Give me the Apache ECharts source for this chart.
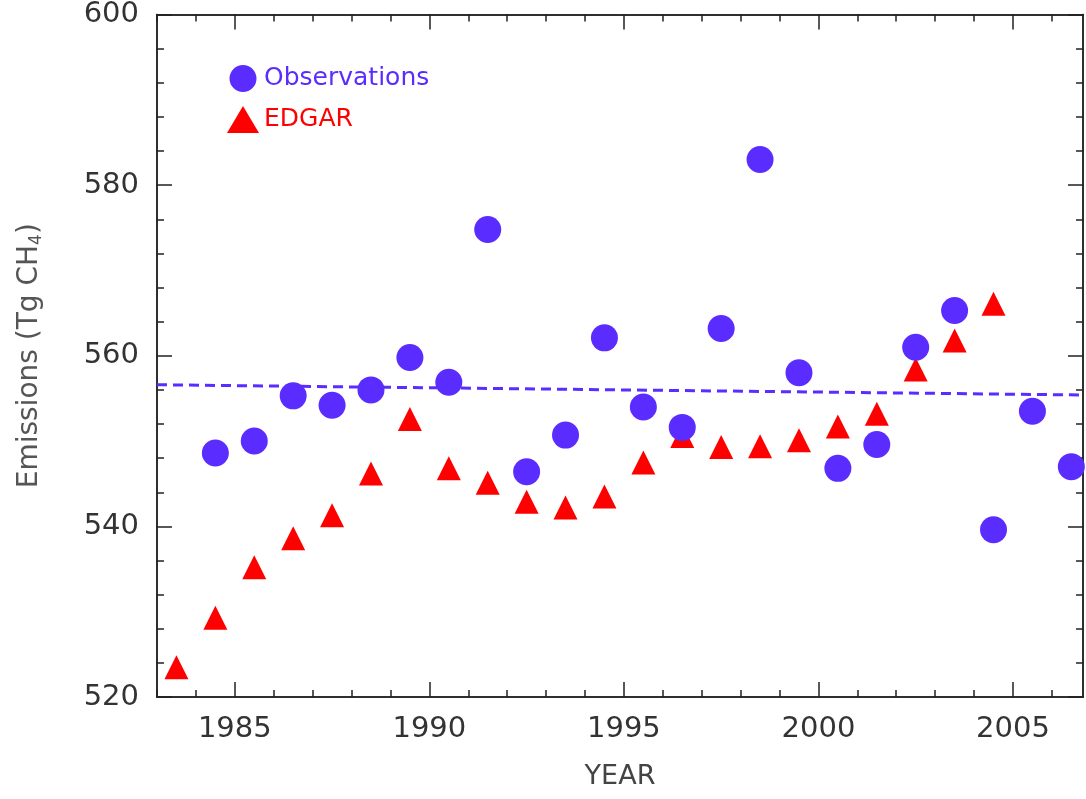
<!DOCTYPE html><html><head><meta charset="utf-8"><script src="https://cdn.jsdelivr.net/npm/echarts@6/dist/echarts.min.js"></script></head><body style="margin:0"><div id="c" style="width:1086px;height:799px"></div><script>
const obsYears=[1984.5,1985.5,1986.5,1987.5,1988.5,1989.5,1990.5,1991.5,1992.5,1993.5,1994.5,1995.5,1996.5,1997.5,1998.5,1999.5,2000.5,2001.5,2002.5,2003.5,2004.5,2005.5,2006.5];
const obsVals=[548.6,550.0,555.3,554.2,556.0,559.8,556.9,574.8,546.4,550.7,562.1,554.0,551.6,563.2,583.0,558.0,546.8,549.6,561.0,565.3,539.6,553.5,547.0];
const edgarYears=[1983.5,1984.5,1985.5,1986.5,1987.5,1988.5,1989.5,1990.5,1991.5,1992.5,1993.5,1994.5,1995.5,1996.5,1997.5,1998.5,1999.5,2000.5,2001.5,2002.5,2003.5,2004.5];
const edgarVals=[523.5,529.3,535.2,538.6,541.3,546.2,552.6,546.8,545.1,542.9,542.2,543.5,547.5,550.6,549.3,549.4,550.1,551.7,553.2,558.4,561.8,566.1];
const trendX=[1983,2006.8];
const trendY=[556.6,555.4];
const xLabels=[1985,1990,1995,2000,2005];
const xMinor=[];for(let y=1983;y<=2006;y++)xMinor.push(y);
const yMinor=[];for(let v=520;v<=600;v+=4)yMinor.push(v);
const XMIN=1983,XMAX=2006.8;
const blue='#5a2cff',red='#ff0000',ax='#222',FF='DejaVu Sans';
function xa(pos,show,len,vals){return {type:'value',min:XMIN,max:XMAX,position:pos,axisLine:{show:true,onZero:false,lineStyle:{color:ax,width:1.5}},splitLine:{show:false},
 axisTick:{show:true,inside:true,length:len,customValues:vals,lineStyle:{color:ax,width:1.5}},
 axisLabel:{show:show,customValues:xLabels,formatter:v=>String(v),fontSize:29,color:'#333',margin:18,fontFamily:FF},
 name:show?'YEAR':'',nameLocation:'middle',nameGap:66,nameTextStyle:{fontSize:27,color:'#444',fontFamily:FF}};}
function ya(pos,show,len,vals){return {type:'value',min:520,max:600,interval:20,position:pos,axisLine:{show:true,onZero:false,lineStyle:{color:ax,width:1.5}},splitLine:{show:false},
 axisTick:{show:true,inside:true,length:len,customValues:vals,lineStyle:{color:ax,width:1.5}},
 axisLabel:{show:show,fontSize:29,color:'#333',margin:18,fontFamily:FF},
 name:show?'Emissions (Tg CH{s|4})':'',nameLocation:'middle',nameGap:112,nameTextStyle:{fontSize:28,color:'#555',fontFamily:FF,rich:{s:{fontSize:17,verticalAlign:'bottom',padding:[14,0,0,0],color:'#555',fontFamily:FF}}}};}
const chart=echarts.init(document.getElementById('c'));
chart.setOption({animation:false,backgroundColor:'#fff',
 grid:{left:157,top:12,right:3,bottom:102},
 xAxis:[xa('bottom',true,15,xLabels),xa('top',false,15,xLabels),xa('bottom',false,7,xMinor),xa('top',false,7,xMinor)],
 yAxis:[ya('left',true,15,[520,540,560,580,600]),ya('right',false,15,[520,540,560,580,600]),ya('left',false,7,yMinor),ya('right',false,7,yMinor)],
 legend:{orient:'vertical',left:222,top:60,itemGap:14,itemWidth:32,itemHeight:27,textStyle:{fontSize:25,fontFamily:FF},
  data:[{name:'Observations',icon:'circle',textStyle:{color:blue}},{name:'EDGAR',icon:'triangle',textStyle:{color:red}}]},
 series:[
  {name:'trend',type:'line',data:trendX.map((x,i)=>[x,trendY[i]]),symbol:'none',lineStyle:{color:blue,width:3,type:[10,6]},z:1},
  {name:'Observations',type:'scatter',data:obsYears.map((x,i)=>[x,obsVals[i]]),symbol:'circle',symbolSize:27,itemStyle:{color:blue,opacity:1},z:3},
  {name:'EDGAR',type:'scatter',data:edgarYears.map((x,i)=>[x,edgarVals[i]]),symbol:'triangle',symbolSize:24,itemStyle:{color:red,opacity:1},z:2}
 ]});
</script></body></html>
